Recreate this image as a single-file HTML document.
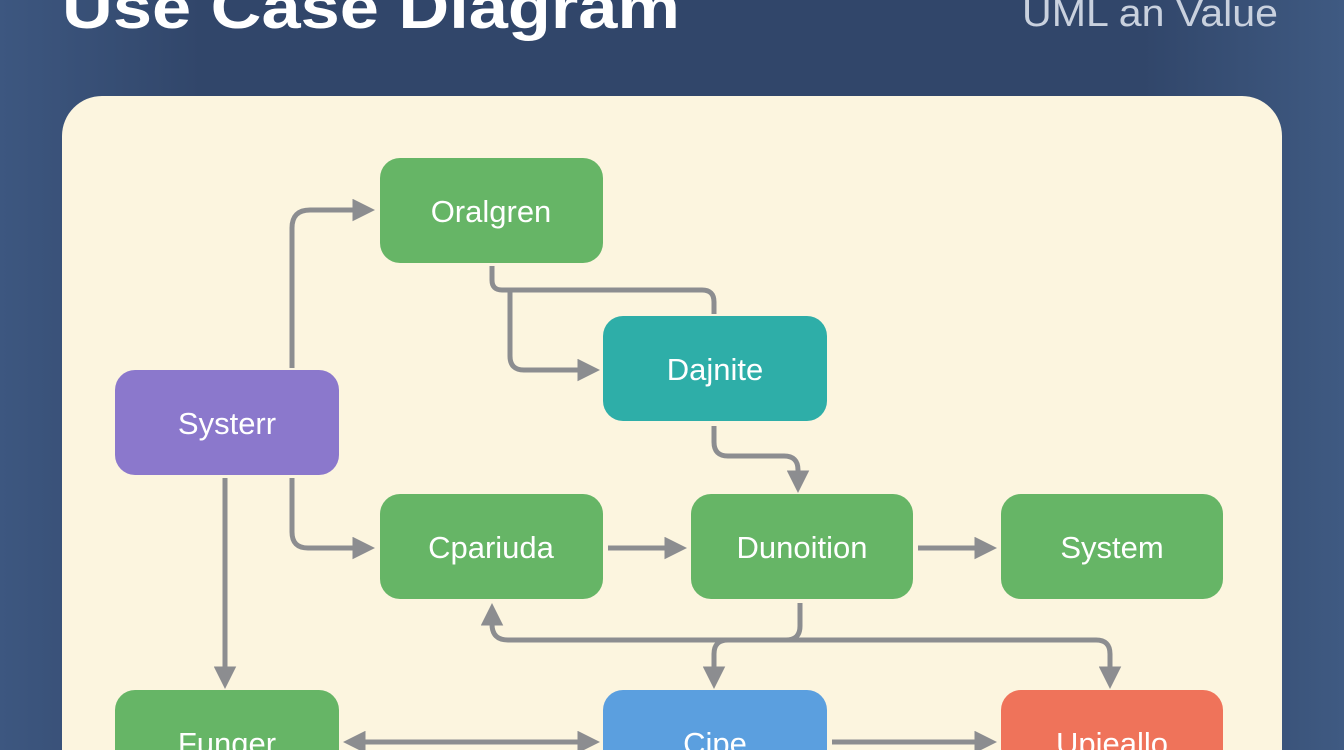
<!DOCTYPE html>
<html><head><style>
html,body{margin:0;padding:0;width:1344px;height:750px;overflow:hidden;background:#33486b}
svg{display:block}
</style></head><body>
<svg width="1344" height="750" xmlns="http://www.w3.org/2000/svg" font-family="Liberation Sans, sans-serif">
<defs>
<linearGradient id="bg" x1="0" y1="0" x2="1" y2="0">
<stop offset="0" stop-color="#3d5780"/><stop offset="0.15" stop-color="#31466a"/><stop offset="0.85" stop-color="#31466a"/><stop offset="1" stop-color="#3f5a82"/></linearGradient>
<marker id="a" viewBox="0 0 10 10" refX="6" refY="5" markerWidth="4.5" markerHeight="4.5" orient="auto-start-reverse"><path d="M0,0 L10,5 L0,10 z" fill="#8c8d90"/></marker>
</defs>
<rect width="1344" height="750" fill="url(#bg)"/>
<text x="62" y="28" font-size="60" font-weight="bold" fill="#fff" textLength="618" lengthAdjust="spacingAndGlyphs">Use Case Diagram</text>
<text x="1278" y="26" font-size="38" fill="#c9d1de" text-anchor="end" textLength="256" lengthAdjust="spacingAndGlyphs">UML an Value</text>
<rect x="62" y="96" width="1220" height="700" rx="40" fill="#fcf5df"/>
<g fill="none" stroke="#8c8d90" stroke-width="5" stroke-linejoin="round">
<path d="M292,368 V228 Q292,210 310,210 H366" marker-end="url(#a)"/>
<path d="M492,266 V280 Q492,290 502,290 H702 Q714,290 714,302 V314"/>
<path d="M510,290 V356 Q510,370 524,370 H591" marker-end="url(#a)"/>
<path d="M714,426 V442 Q714,456 728,456 H784 Q798,456 798,470 V484" marker-end="url(#a)"/>
<path d="M292,478 V532 Q292,548 308,548 H366" marker-end="url(#a)"/>
<path d="M608,548 H678" marker-end="url(#a)"/>
<path d="M918,548 H988" marker-end="url(#a)"/>
<path d="M225,478 V680" marker-end="url(#a)"/>
<path d="M800,603 V626 Q800,640 786,640 H508 Q492,640 492,624 V612" marker-end="url(#a)"/>
<path d="M728,640 Q714,640 714,654 V680" marker-end="url(#a)"/>
<path d="M780,640 H1096 Q1110,640 1110,654 V680" marker-end="url(#a)"/>
<path d="M352,742 H591" marker-start="url(#a)" marker-end="url(#a)"/>
<path d="M832,742 H988" marker-end="url(#a)"/>
</g>
<g font-size="31" fill="#fff" text-anchor="middle">
<rect x="380" y="158" width="223" height="105" rx="20" fill="#66b566"/><text x="491" y="222">Oralgren</text>
<rect x="603" y="316" width="224" height="105" rx="20" fill="#2eaea8"/><text x="715" y="380">Dajnite</text>
<rect x="115" y="370" width="224" height="105" rx="20" fill="#8b78cc"/><text x="227" y="434">Systerr</text>
<rect x="380" y="494" width="223" height="105" rx="20" fill="#66b566"/><text x="491" y="558">Cpariuda</text>
<rect x="691" y="494" width="222" height="105" rx="20" fill="#66b566"/><text x="802" y="558">Dunoition</text>
<rect x="1001" y="494" width="222" height="105" rx="20" fill="#66b566"/><text x="1112" y="558">System</text>
<rect x="115" y="690" width="224" height="105" rx="20" fill="#66b566"/><text x="227" y="754">Funger</text>
<rect x="603" y="690" width="224" height="105" rx="20" fill="#5b9fdf"/><text x="715" y="754">Cipe</text>
<rect x="1001" y="690" width="222" height="105" rx="20" fill="#ef735a"/><text x="1112" y="754">Upieallo</text>
</g>
</svg>
</body></html>
